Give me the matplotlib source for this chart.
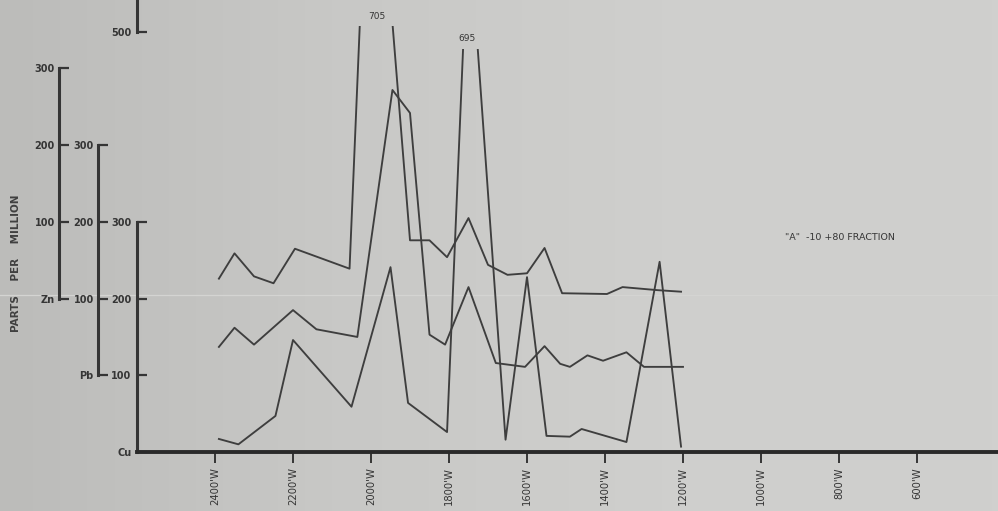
import matplotlib
matplotlib.use("Agg")
import numpy as np
import matplotlib.pyplot as plt
from matplotlib.patches import Rectangle
from matplotlib.colors import LinearSegmentedColormap
from matplotlib.lines import Line2D

# ---------------- data ----------------
station_ticks = [2400, 2200, 2000, 1800, 1600, 1400, 1200, 1000, 800, 600]
station_labels = ["2400'W", "2200'W", "2000'W", "1800'W", "1600'W",
                  "1400'W", "1200'W", "1000'W", "800'W", "600'W"]

zn_ft = [2390, 2350, 2300, 2250, 2195, 2055, 2000, 1900, 1850, 1805, 1750,
         1700, 1650, 1600, 1555, 1510, 1395, 1355, 1265, 1205]
zn_ppm = [26, 59, 29, 20, 65, 39, 705, 76, 76, 54, 105,
          44, 31, 33, 66, 7, 6, 15, 11, 9]

pb_ft = [2390, 2350, 2300, 2200, 2140, 2035, 1945, 1900, 1850, 1810, 1750,
         1680, 1605, 1555, 1515, 1490, 1445, 1405, 1345, 1300, 1200]
pb_ppm = [37, 62, 40, 85, 60, 50, 372, 342, 53, 40, 115,
          16, 11, 38, 15, 11, 26, 19, 30, 11, 11]

cu_ft = [2390, 2340, 2245, 2200, 2050, 1950, 1905, 1805, 1750, 1655,
         1600, 1550, 1490, 1460, 1345, 1260, 1205]
cu_ppm = [17, 10, 47, 146, 59, 241, 64, 26, 695, 16,
          228, 21, 20, 30, 13, 248, 7]

axis_ticks = [0, 100, 200, 300]
zn_ticklabels = ["Zn", "100", "200", "300"]
pb_ticklabels = ["Pb", "100", "200", "300"]
cu_ticklabels = ["Cu", "100", "200", "300"]

fraction_label = '"A"  -10 +80 FRACTION'
ylabel = "PARTS    PER    MILLION"

# ---------------- styling ----------------
BG = "#c8c8c6"
INK = "#353535"
LINE = "#3e3e3e"

W, H = 998, 511
fig = plt.figure(figsize=(W / 100, H / 100), dpi=100, facecolor=BG)

# paper background (scan tone, darker on the left)
bg = fig.add_axes([0, 0, 1, 1], zorder=-10)
paper = LinearSegmentedColormap.from_list("paper", ["#bcbcba", "#c8c8c6", "#cfcfcd", "#d0d0ce"])
bg.imshow(np.linspace(0, 1, 256)[None, :], cmap=paper, aspect="auto",
          extent=[0, 1, 0, 1], interpolation="bilinear")
bg.set_xlim(0, 1)
bg.set_ylim(0, 1)
bg.axis("off")
fig.add_artist(Line2D([0, 1], [1 - 295 / H, 1 - 295 / H], transform=fig.transFigure,
                      color="#d4d4d2", lw=0.9, zorder=-5))

base_px = 452          # pixel row of the baseline
ppu = 0.767            # pixels per ppm on the Cu scale
y_top = base_px / ppu  # data value at the top of the figure

x_left_ft, x_right_ft = 2600, 392.3
ax = fig.add_axes([137 / W, (H - base_px) / H, (W - 137) / W, base_px / H])
ax.set_facecolor("none")
ax.set_xlim(x_left_ft, x_right_ft)
ax.set_ylim(0, y_top)

for s in ["top", "right"]:
    ax.spines[s].set_visible(False)
ax.spines["bottom"].set_linewidth(2.8)
ax.spines["bottom"].set_color("#2a2a2a")
ax.spines["left"].set_linewidth(2.2)
ax.spines["left"].set_color(INK)
ax.spines["left"].set_bounds(0, 300)

ax.set_xticks(station_ticks)
ax.set_xticklabels(station_labels, rotation=90, fontsize=7.2, color=INK)
ax.tick_params(axis="x", direction="out", length=8, width=1.4, color=INK, pad=3)
ax.set_yticks(axis_ticks)
ax.set_yticklabels(cu_ticklabels, fontsize=7, fontweight="bold", color=INK)
ax.tick_params(axis="y", direction="in", length=7, width=1.6, color=INK, pad=4)


def side_axis(px_x, offset, labels):
    a = fig.add_axes([px_x / W, (H - base_px) / H, 0.0001, base_px / H])
    a.set_facecolor("none")
    a.set_ylim(0 - offset, y_top - offset)
    a.set_xticks([])
    for s in ["top", "right", "bottom"]:
        a.spines[s].set_visible(False)
    a.spines["left"].set_linewidth(2.2)
    a.spines["left"].set_color(INK)
    a.spines["left"].set_bounds(0, 300)
    a.set_yticks(axis_ticks)
    a.set_yticklabels(labels, fontsize=7, fontweight="bold", color=INK)
    a.tick_params(axis="y", direction="in", length=7, width=1.6, color=INK, pad=3)
    return a


side_axis(98, 100, pb_ticklabels)
side_axis(59, 200, zn_ticklabels)

# top broken scale piece ("500")
at = fig.add_axes([137 / W, (H - 32) / H, 0.0001, 32 / H])
at.set_facecolor("none")
at.set_ylim(0, 1)
at.set_xticks([])
for s in ["top", "right", "bottom"]:
    at.spines[s].set_visible(False)
at.spines["left"].set_linewidth(2.2)
at.spines["left"].set_color(INK)
at.set_yticks([0])
at.set_yticklabels(["500"], fontsize=7, fontweight="bold", color=INK)
at.tick_params(axis="y", direction="in", length=7, width=1.6, color=INK, pad=4)

# ---------------- profile lines ----------------
lw = 1.35
zn_line, = ax.plot(zn_ft, [v + 200 for v in zn_ppm], color=LINE, lw=lw)
pb_line, = ax.plot(pb_ft, [v + 100 for v in pb_ppm], color=LINE, lw=lw)
cu_line, = ax.plot(cu_ft, cu_ppm, color=LINE, lw=lw)

# truncated spikes
zn_clip = Rectangle((x_left_ft, 0), x_right_ft - x_left_ft, 556, transform=ax.transData)
zn_line.set_clip_path(zn_clip)
cu_clip = Rectangle((x_left_ft, 0), x_right_ft - x_left_ft, 526, transform=ax.transData)
cu_line.set_clip_path(cu_clip)

ax.text(1985, 568, str(max(zn_ppm)), fontsize=6.5, color=INK, ha="center", va="center")
ax.text(1754, 539, str(max(cu_ppm)), fontsize=6.5, color=INK, ha="center", va="center")

fig.text(785 / W, 1 - 238 / H, fraction_label, fontsize=6.8, color=INK,
         ha="left", va="center")
fig.text(16 / W, 1 - 263 / H, ylabel, rotation=90, fontsize=7.5, fontweight="bold",
         color="#404040", ha="center", va="center")

fig.savefig("out.png", dpi=100, facecolor=BG)
